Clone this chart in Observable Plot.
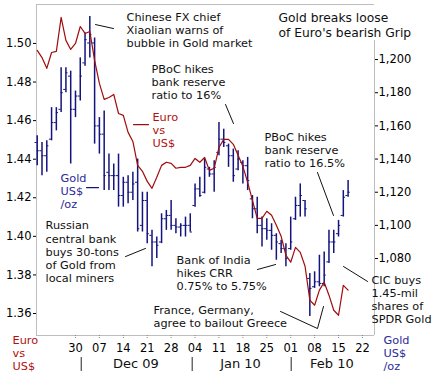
<!DOCTYPE html>
<html><head><meta charset="utf-8">
<script src="https://cdn.jsdelivr.net/npm/d3@7"></script>
<script src="https://cdn.jsdelivr.net/npm/@observablehq/plot@0.6"></script>
<style>body{margin:0;background:#fff;}</style>
</head><body><div id="chart"></div>
<script>
// Trading-day index 0..65 (18 Nov 2009 .. 17 Feb 2010)
const goldHigh = [1154,1150,1151,1171,1171,1195,1195,1193,1181,1201,1216,1226,1213,1165,1169,1143,1137,1143,1129,1130,1132,1140,1120,1120,1097,1093,1107,1109,1115,1104,1101,1105,1107,1125,1129,1140,1135,1139,1162,1158,1149,1146,1145,1139,1141,1118,1117,1105,1104,1101,1095,1091,1089,1105,1117,1125,1115,1071,1072,1082,1084,1097,1097,1103,1121,1127];
const goldLow = [1136,1130,1132,1151,1157,1168,1180,1137,1165,1175,1196,1201,1149,1143,1121,1121,1121,1111,1111,1113,1115,1096,1096,1089,1075,1080,1089,1097,1097,1095,1093,1093,1096,1111,1117,1119,1129,1120,1142,1147,1135,1126,1133,1125,1121,1104,1095,1087,1091,1085,1079,1083,1075,1085,1103,1105,1105,1045,1062,1063,1063,1077,1083,1093,1105,1117];
const goldOpen = [1150,1145,1142,1152,1162,1170,1182,1190,1170,1178,1198,1210,1210,1160,1155,1132,1130,1130,1118,1126,1120,1126,1100,1115,1094,1090,1090,1104,1106,1100,1099,1100,1100,1112,1122,1120,1134,1131,1144,1152,1148,1142,1134,1138,1136,1116,1110,1100,1098,1097,1094,1089,1086,1086,1104,1112,1115,1068,1063,1066,1065,1078,1090,1095,1106,1118];
const goldClose = [1145,1142,1148,1162,1168,1180,1192,1170,1178,1190,1212,1215,1160,1155,1130,1130,1130,1118,1126,1120,1125,1098,1115,1095,1090,1088,1104,1106,1100,1099,1100,1100,1096,1122,1118,1135,1131,1135,1152,1150,1142,1130,1140,1136,1127,1110,1100,1098,1097,1094,1090,1086,1080,1090,1112,1118,1110,1062,1066,1065,1070,1090,1090,1100,1117,1120];
const euroUsd = [1.4964,1.4927,1.4871,1.4953,1.4959,1.5135,1.5016,1.4969,1.5000,1.5088,1.5052,1.5062,1.4912,1.4793,1.4710,1.4720,1.4736,1.4637,1.4627,1.4539,1.4492,1.4368,1.4337,1.4285,1.4249,1.4306,1.4368,1.4384,1.4378,1.4353,1.4358,1.4358,1.4368,1.4404,1.4384,1.4409,1.4342,1.4353,1.4461,1.4503,1.4503,1.4477,1.4420,1.4363,1.4280,1.4187,1.4093,1.4093,1.4130,1.4109,1.4057,1.4000,1.3902,1.3866,1.3943,1.3917,1.3845,1.3669,1.3643,1.3721,1.3762,1.3695,1.3617,1.3591,1.3746,1.3721];

const weekTickIndex = [8,13,18,23,28,33,38,43,48,53,58,63,68];
const weekTickLabels = ["30","07","14","21","28","04","11","18","25","01","08","15","22"];
const monthLabels = ["Dec 09","Jan 10","Feb 10"];
const monthCenters = [20.65,42.5,61.6];
const monthBreaks = [9.2,32.4,53.1];
const euroTicks = [1.36,1.38,1.40,1.42,1.44,1.46,1.48,1.50];
const goldTicks = [1080,1100,1120,1140,1160,1180,1200];

const titleText = "Gold breaks loose\nof Euro's bearish Grip";
const notes = [
  {text:"Chinese FX chief\nXiaolian warns of\nbubble in Gold market", x:18.67, y:1217.9},
  {text:"PBoC hikes\nbank reserve\nratio to 16%", x:23.9, y:1186.8},
  {text:"Russian\ncentral bank\nbuys 30-tons\nof Gold from\nlocal miners", x:1.74, y:1084.3},
  {text:"PBoC hikes\nbank reserve\nratio to 16.5%", x:47.52, y:1145.8},
  {text:"Bank of India\nhikes CRR\n0.75% to 5.75%", x:29.12, y:1071.6},
  {text:"France, Germany,\nagree to bailout Greece", x:24.31, y:1045.1},
  {text:"CIC buys\n1.45-mil\nshares of\nSPDR Gold", x:69.89, y:1055.3}
];
const leaders = [
  {k:"a", pts:[[12.19,1221.1],[15.95,1218.7]]},
  {k:"b", pts:[[39.37,1172.9],[41.04,1161.4]]},
  {k:"c", pts:[[18.46,1081.2],[22.64,1086.1]]},
  {k:"d", pts:[[58.6,1131.9],[61.94,1106.0]]},
  {k:"e", pts:[[46.06,1073.4],[49.83,1076.4]]},
  {k:"f", pts:[[50.87,1048.1],[58.6,1037.8],[59.86,1051.1]]},
  {k:"g", pts:[[64.04,1075.2],[69.06,1066.2]]}
];

const RED = "#a00c0c", RED_TXT = "#b01010", BLUE = "#14147e", BLUE_TXT = "#2a2a9a", GRID = "#bdbdbd";
const xDomain = [-0.15, 70.52];
const goldDomain = [1033.6, 1233.2];
const euroDomain = [1.3486, 1.5202];
const e2g = d3.scaleLinear().domain(euroDomain).range(goldDomain);

const idx = d3.range(goldHigh.length);
const bars = idx.map(i => ({i, hi: goldHigh[i], lo: goldLow[i], op: goldOpen[i], cl: goldClose[i]}));
const euro = idx.map(i => ({i, v: e2g(euroUsd[i])}));
const leaderPts = leaders.flatMap(l => l.pts.map(p => ({k:l.k, x:p[0], y:p[1]})));

const chart = Plot.plot({
  width: 435, height: 374,
  marginLeft: 36, marginRight: 61, marginTop: 4, marginBottom: 39,
  style: {fontFamily: "DejaVu Sans", fontSize: "11px", background: "white", overflow: "visible"},
  x: {domain: xDomain},
  y: {domain: goldDomain},
  marks: [
    // frame
    Plot.ruleY([goldDomain[1]], {x1: xDomain[0], x2: xDomain[1], stroke: GRID}),
    Plot.ruleY([goldDomain[0]], {x1: xDomain[0], x2: xDomain[1], stroke: GRID}),
    Plot.ruleX([xDomain[0]], {y1: goldDomain[0], y2: goldDomain[1], stroke: GRID}),
    Plot.ruleX([xDomain[1]], {y1: goldDomain[0], y2: 1211.5, stroke: GRID}),
    // axes
    Plot.axisY(euroTicks.map(e2g), {anchor: "left", tickSize: 3, tickPadding: 2, fontSize: 11.5, label: null,
      tickFormat: v => e2g.invert(v).toFixed(2)}),
    Plot.axisY(goldTicks, {anchor: "right", tickSize: 3, tickPadding: 1, fontSize: 11.5, label: null,
      tickFormat: d3.format(",")}),
    Plot.axisX(weekTickIndex, {anchor: "bottom", tickSize: 3, tickPadding: 5, fontSize: 11.5, label: null,
      stroke: "#888", strokeDasharray: "1,1",
      tickFormat: d => weekTickLabels[weekTickIndex.indexOf(d)]}),
    Plot.text(monthLabels, {x: (d, i) => monthCenters[i], y: 1016.7, text: d => d, fontSize: 13, fill: "#111"}),
    Plot.ruleX(monthBreaks, {y1: 1011.9, y2: 1020.3, stroke: "#222"}),
    // gold bars
    Plot.ruleX(bars, {x: "i", y1: "lo", y2: "hi", stroke: BLUE, strokeWidth: 1.5}),
    Plot.ruleY(bars, {y: "op", x1: d => d.i - 0.45, x2: "i", stroke: BLUE, strokeWidth: 1}),
    Plot.ruleY(bars, {y: "cl", x1: "i", x2: d => d.i + 0.45, stroke: BLUE, strokeWidth: 1}),
    // euro line
    Plot.line(euro, {x: "i", y: "v", stroke: RED, strokeWidth: 1.2}),
    // leaders
    Plot.line(leaderPts, {x: "x", y: "y", z: "k", stroke: "#111", strokeWidth: 1}),
    Plot.line([{x:20.13,y:1160.8},{x:23.27,y:1160.8}], {x: "x", y: "y", stroke: RED, strokeWidth: 1.2}),
    Plot.line([{x:10.31,y:1122.8},{x:12.82,y:1122.8}], {x: "x", y: "y", stroke: BLUE, strokeWidth: 1.2}),
    // annotations
    Plot.text(notes, {x: "x", y: "y", text: "text", textAnchor: "start", lineAnchor: "middle", lineHeight: 1.16, fontSize: 11.3, fill: "#111"}),
    Plot.text([titleText], {x: 50.45, y: 1220.8, text: d => d, textAnchor: "start", lineAnchor: "middle", lineHeight: 1.22, fontSize: 12.3, fill: "#111"}),
    Plot.text(["Euro\nvs\nUS$"], {x: 24.1, y: 1157.8, text: d => d, textAnchor: "start", lineAnchor: "middle", lineHeight: 1.16, fontSize: 11.3, fill: RED_TXT}),
    Plot.text(["Gold\nUS$\n/oz"], {x: 4.87, y: 1121.0, text: d => d, textAnchor: "start", lineAnchor: "middle", lineHeight: 1.16, fontSize: 11.3, fill: BLUE_TXT}),
    Plot.text(["Euro\nvs\nUS$"], {x: -5.16, y: 1023.3, text: d => d, textAnchor: "start", lineAnchor: "middle", lineHeight: 1.16, fontSize: 11.3, fill: RED_TXT}),
    Plot.text(["Gold\nUS$\n/oz"], {x: 72.4, y: 1023.3, text: d => d, textAnchor: "start", lineAnchor: "middle", lineHeight: 1.16, fontSize: 11.3, fill: BLUE_TXT})
  ]
});
document.getElementById("chart").appendChild(chart);
</script>
</body></html>
